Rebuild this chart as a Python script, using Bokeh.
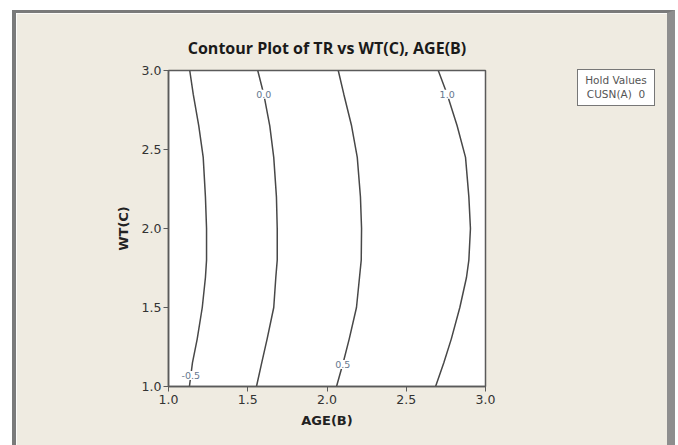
import numpy as np
from bokeh.plotting import figure
from bokeh.layouts import column
from bokeh.models import Range1d, FixedTicker, PrintfTickFormatter, ColumnDataSource, Div
from bokeh.core.properties import value
from bokeh.embed import file_html
from bokeh.resources import INLINE

# ---------------- data ----------------
title_text = "Contour Plot of TR vs WT(C), AGE(B)"
x_label = "AGE(B)"
y_label = "WT(C)"
tick_values = [1.0, 1.5, 2.0, 2.5, 3.0]
hold_title = "Hold Values"
hold_text = "CUSN(A)&nbsp; 0"

# WT(C) values at which each contour line was read
wt_points = [1.0, 1.15, 1.3, 1.5, 1.69, 1.8, 2.0, 2.2, 2.45, 2.65, 2.85, 3.0]
# AGE(B) position of each contour line at those WT(C) values
age_level_m05 = [1.132, 1.151, 1.181, 1.213, 1.233, 1.240, 1.240, 1.233, 1.219, 1.191, 1.156, 1.134]
age_level_00 = [1.555, 1.588, 1.622, 1.664, 1.677, 1.686, 1.686, 1.681, 1.664, 1.639, 1.601, 1.563]
age_level_05 = [2.060, 2.102, 2.140, 2.186, 2.205, 2.216, 2.218, 2.211, 2.191, 2.155, 2.106, 2.071]
age_level_10 = [2.685, 2.737, 2.784, 2.838, 2.880, 2.895, 2.905, 2.895, 2.874, 2.821, 2.758, 2.702]

contour_levels = [-0.5, 0.0, 0.5, 1.0]
contour_label_text = ["-0.5", "0.0", "0.5", "1.0"]
contour_label_wt = [1.07, 2.85, 1.14, 2.85]

# ---------------- styling ----------------
BEIGE = "#efebe1"
W, H = 651, 432

p = figure(width=W, height=H, x_range=Range1d(1, 3), y_range=Range1d(1, 3),
           output_backend="svg", toolbar_location=None,
           min_border_left=152, min_border_right=194, min_border_top=57, min_border_bottom=62,
           background_fill_color="white", border_fill_color=BEIGE,
           styles={"margin-top": "10px", "margin-left": "12px",
                   "border-top": "3px solid #7a7a7a",
                   "border-left": "4px solid #7a7a7a",
                   "border-right": "8px solid #8e8e8e",
                   "box-sizing": "content-box"})

p.xgrid.visible = False
p.ygrid.visible = False
p.outline_line_color = "#5a5a5a"
p.outline_line_width = 1.5

for ax in (p.xaxis[0], p.yaxis[0]):
    ax.ticker = FixedTicker(ticks=tick_values, minor_ticks=[])
    ax.formatter = PrintfTickFormatter(format="%.1f")
    ax.axis_line_color = "#5a5a5a"
    ax.axis_line_width = 1.5
    ax.major_tick_line_color = "#5a5a5a"
    ax.major_tick_line_width = 1
    ax.major_tick_out = 5
    ax.major_tick_in = 0
    ax.minor_tick_out = 0
    ax.minor_tick_in = 0
    ax.major_label_text_font = "DejaVu Sans"
    ax.major_label_text_font_size = "12.5px"
    ax.major_label_text_color = "#333333"
    ax.axis_label_text_font = "DejaVu Sans"
    ax.axis_label_text_font_size = "13px"
    ax.axis_label_text_font_style = "bold"
    ax.axis_label_text_color = "#222222"

p.xaxis.major_label_standoff = 3
p.yaxis.major_label_standoff = 2
p.xaxis.axis_label = x_label
p.xaxis.axis_label_standoff = 6
p.yaxis.axis_label = y_label
p.yaxis.axis_label_standoff = 8

p.title.text = title_text
p.title.align = "center"
p.title.text_font = "Open Sans"
p.title.text_font_size = "16px"
p.title.text_font_style = "bold"
p.title.text_color = "#1a1a1a"
p.title.standoff = 24

# contour lines
age_lines = [age_level_m05, age_level_00, age_level_05, age_level_10]
for ages in age_lines:
    p.line(x=ages, y=wt_points, line_color="#484848", line_width=1.5)

# contour labels placed on their lines
lab_x = [float(np.interp(wv, wt_points, ages)) for wv, ages in zip(contour_label_wt, age_lines)]
src = ColumnDataSource(dict(x=lab_x, y=contour_label_wt, text=contour_label_text))
p.text(x="x", y="y", text="text", source=src, text_font=value("DejaVu Sans"), text_font_size="9.5px",
       text_align="center", text_baseline="middle", text_color="#66778e",
       background_fill_color="white", padding=1)

# hold values box (HTML overlay placed over the right margin)
hold_div = Div(text=hold_title + "<br>" + hold_text, width=78, height=37,
               styles={"position": "absolute", "left": "572px", "top": "64px",
                       "box-sizing": "border-box", "border": "1.5px solid #777777",
                       "background-color": "white", "font-family": "DejaVu Sans",
                       "font-size": "10.5px", "line-height": "14px", "color": "#555555",
                       "text-align": "center", "padding-top": "3px", "z-index": "10"})

layout = column(p, hold_div)
open("out.html", "w").write(file_html(layout, INLINE))
